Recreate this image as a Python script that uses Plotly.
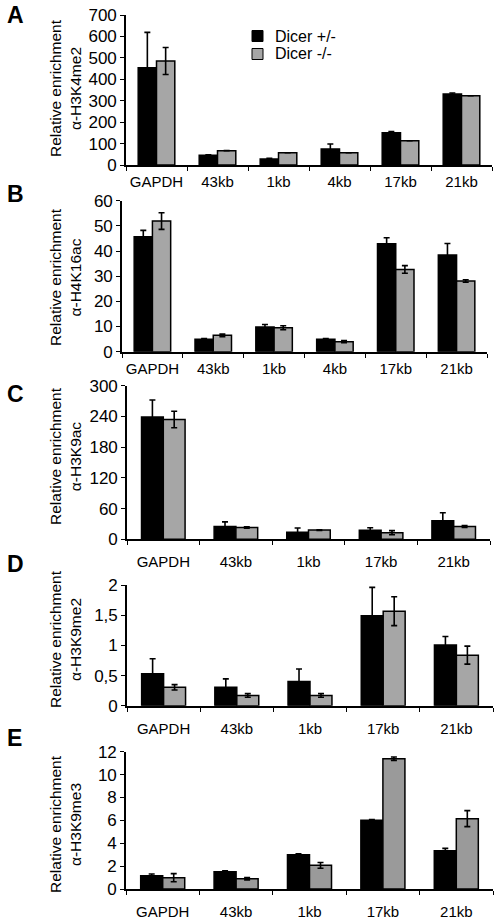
import plotly.graph_objects as go

W, H = 498, 920

# ---------------- data ----------------
cats_A = ["GAPDH", "43kb", "1kb", "4kb", "17kb", "21kb"]
het_A = [454, 45, 28, 75, 151, 331]
het_A_err = [165, 3, 3, 23, 5, 5]
ko_A = [485, 67, 57, 57, 113, 323]
ko_A_err = [63, 0, 0, 0, 0, 0]

cats_B = ["GAPDH", "43kb", "1kb", "4kb", "17kb", "21kb"]
het_B = [45.7, 4.9, 9.8, 4.9, 42.9, 38.4]
het_B_err = [2.5, 0.3, 1.0, 0.3, 2.4, 4.6]
ko_B = [51.9, 6.5, 9.5, 4.0, 32.7, 28.1]
ko_B_err = [3.3, 0.5, 0.8, 0.4, 1.5, 0.5]

cats_C = ["GAPDH", "43kb", "1kb", "17kb", "21kb"]
het_C = [239, 25, 14, 17.6, 36]
het_C_err = [33, 9, 8, 5, 16]
ko_C = [234, 23, 18, 13, 25]
ko_C_err = [16, 1.5, 0.5, 4, 2]

cats_D = ["GAPDH", "43kb", "1kb", "17kb", "21kb"]
het_D = [0.53, 0.305, 0.40, 1.495, 1.01]
het_D_err = [0.25, 0.14, 0.21, 0.47, 0.14]
ko_D = [0.305, 0.17, 0.17, 1.57, 0.84]
ko_D_err = [0.045, 0.03, 0.03, 0.24, 0.15]

cats_E = ["GAPDH", "43kb", "1kb", "17kb", "21kb"]
het_E = [1.16, 1.51, 3.0, 6.0, 3.35]
het_E_err = [0.15, 0.08, 0.08, 0.08, 0.2]
ko_E = [0.99, 0.9, 2.07, 11.39, 6.15]
ko_E_err = [0.35, 0.1, 0.25, 0.15, 0.7]

series_names = ["Dicer +/-", "Dicer -/-"]
panel_letters = ["A", "B", "C", "D", "E"]
y_titles = ["α-H3K4me2", "α-H4K16ac", "α-H3K9ac", "α-H3K9me2", "α-H3K9me3"]
y_max = [700, 60, 300, 2, 12]
y_dtick = [100, 10, 60, 0.5, 2]

# ---------------- layout geometry (reference pixels) ----------------
# (x0, x1, y_bottom, y_top)
geom = [
    (126, 492, 165, 15),
    (122, 487, 351.7, 200.7),
    (127, 490, 539.3, 385.7),
    (127, 493, 705.7, 585.3),
    (126, 493, 889, 751.7),
]
standoffs = [2, 2, 8, 8, 8]
letter_y = [15, 194, 394, 564, 738]
title_y = [88, 277, 456, 639, 824]
grey_cols = ["#a6a6a6", "#a6a6a6", "#a6a6a6", "#a6a6a6", "#9a9a9a"]

FONT = "Liberation Sans, Arial, sans-serif"

def px_x(p):
    return p / W

def px_y(p):
    return 1 - p / H

panels = [
    (cats_A, het_A, het_A_err, ko_A, ko_A_err),
    (cats_B, het_B, het_B_err, ko_B, ko_B_err),
    (cats_C, het_C, het_C_err, ko_C, ko_C_err),
    (cats_D, het_D, het_D_err, ko_D, ko_D_err),
    (cats_E, het_E, het_E_err, ko_E, ko_E_err),
]

fig = go.Figure()
annotations = []
shapes = []

for i, (cats, het, het_err, ko, ko_err) in enumerate(panels):
    n = i + 1
    xa = "x" if n == 1 else f"x{n}"
    ya = "y" if n == 1 else f"y{n}"
    for vals, errs, col in [(het, het_err, "#000000"), (ko, ko_err, grey_cols[i])]:
        fig.add_trace(go.Bar(
            x=cats, y=vals, xaxis=xa, yaxis=ya,
            marker=dict(color=col, line=dict(color="#000000", width=1.5)),
            error_y=dict(type="data", array=errs, visible=True,
                         color="#000000", thickness=1.6, width=3),
            showlegend=False,
        ))
    x0, x1, yb, yt = geom[i]
    xkey = "xaxis" if n == 1 else f"xaxis{n}"
    ykey = "yaxis" if n == 1 else f"yaxis{n}"
    fig.update_layout(**{
        xkey: dict(
            domain=[px_x(x0), px_x(x1)], anchor=ya, type="category",
            categoryorder="array", categoryarray=cats,
            range=[-0.5, len(cats) - 0.5], automargin=False, tickangle=0,
            showline=True, linecolor="#000000", linewidth=1.6,
            ticks="outside", tickson="boundaries", ticklen=4, tickwidth=1.2,
            tickcolor="#000000", ticklabelstandoff=standoffs[i],
            ticklabeloverflow="allow",
            tickfont=dict(family=FONT, size=15, color="#000000"),
            showgrid=False, zeroline=False, fixedrange=True,
        ),
        ykey: dict(
            domain=[px_y(yb), px_y(yt)], anchor=xa, automargin=False,
            range=[0, y_max[i]], dtick=y_dtick[i], tick0=0,
            showline=True, linecolor="#000000", linewidth=1.6,
            ticks="outside", ticklen=4, tickwidth=1.2, tickcolor="#000000",
            ticklabeloverflow="allow",
            tickfont=dict(family=FONT, size=17, color="#000000"),
            showgrid=False, zeroline=False, fixedrange=True,
        ),
    })
    annotations.append(dict(
        text=f"<b>{panel_letters[i]}</b>", xref="paper", yref="paper",
        x=px_x(5), y=px_y(letter_y[i]), xanchor="left", yanchor="middle",
        showarrow=False, font=dict(family=FONT, size=23, color="#000000"),
    ))
    annotations.append(dict(
        text=f"Relative enrichment<br>{y_titles[i]}", xref="paper", yref="paper",
        x=px_x(65), y=px_y(title_y[i]), xanchor="center", yanchor="middle",
        textangle=-90, showarrow=False,
        font=dict(family=FONT, size=15.5, color="#000000"),
    ))

# legend (manual, inside panel A)
legend_cols = ["#000000", grey_cols[0]]
legend_y = [36, 54]
for name, col, ly in zip(series_names, legend_cols, legend_y):
    shapes.append(dict(
        type="rect", xref="paper", yref="paper",
        x0=px_x(252), x1=px_x(263), y0=px_y(ly + 5.5), y1=px_y(ly - 5.5),
        fillcolor=col, line=dict(color="#000000", width=1),
    ))
    annotations.append(dict(
        text=name, xref="paper", yref="paper",
        x=px_x(273), y=px_y(ly), xanchor="left", yanchor="middle",
        showarrow=False, font=dict(family=FONT, size=16, color="#000000"),
    ))

fig.update_layout(
    template="none",
    width=W, height=H,
    margin=dict(l=0, r=0, t=0, b=0, autoexpand=False),
    paper_bgcolor="#ffffff", plot_bgcolor="#ffffff",
    barmode="group", bargap=0.4, bargroupgap=0,
    separators=",.",
    showlegend=False,
    annotations=annotations, shapes=shapes,
    font=dict(family=FONT, color="#000000"),
)

# remove the browser's default 8 px body margin so the figure sits at (0, 0)
fig.write_html(
    "out.html",
    config={"displayModeBar": False},
    post_script="document.body.style.margin='0px';document.body.style.padding='0px';",
)
